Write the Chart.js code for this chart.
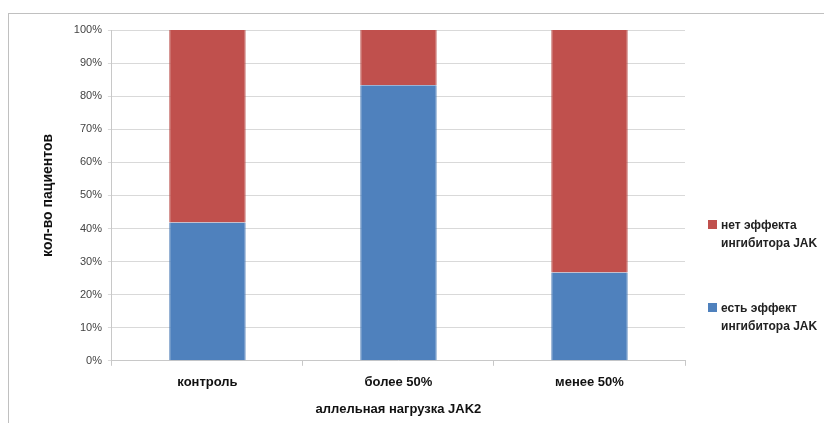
<!DOCTYPE html>
<html>
<head>
<meta charset="utf-8">
<script src="https://cdn.jsdelivr.net/npm/chart.js@4"></script>
<style>
  html, body { margin: 0; padding: 0; background: #fff; }
  #wrap { position: relative; width: 824px; height: 423px; overflow: hidden; }
  #frame { position: absolute; left: 8px; top: 13px; width: 830px; height: 430px;
           border-top: 1px solid #c0c0c0; border-left: 1px solid #c0c0c0; }
  #chart { position: absolute; left: 0; top: 0; }
  #legend { position: absolute; left: 708px; top: 216px; font: bold 12px "Liberation Sans", Arial, sans-serif; color: #222; }
  .item { position: relative; padding-left: 13px; line-height: 18px; margin-bottom: 47px; white-space: nowrap; }
  .box { position: absolute; left: 0; top: 4px; width: 9px; height: 9px; }
</style>
</head>
<body>
<div id="wrap">
  <div id="frame"></div>
  <canvas id="chart" width="824" height="423"></canvas>
  <div id="legend"></div>
</div>
<script>
const categories = ["контроль", "более 50%", "менее 50%"];
const withEffect = [41.8, 83.3, 26.7];
const noEffect = [58.2, 16.7, 73.3];
const seriesLabels = ["есть эффект ингибитора JAK", "нет эффекта ингибитора JAK"];
const yTicks = ["0%", "10%", "20%", "30%", "40%", "50%", "60%", "70%", "80%", "90%", "100%"];

const blue = "#4f81bd";
const red = "#c0504d";

const data = {
  labels: categories,
  datasets: [
    {
      label: seriesLabels[0],
      backgroundColor: blue,
      borderColor: "#4a7ab5",
      borderWidth: { left: 1, right: 1, top: 0, bottom: 0 },
      data: withEffect,
      barPercentage: 0.4,
      categoryPercentage: 1.0,
    },
    {
      label: seriesLabels[1],
      backgroundColor: red,
      borderColor: "#b84a47",
      borderWidth: { left: 1, right: 1, top: 0, bottom: 0 },
      data: noEffect,
      barPercentage: 0.4,
      categoryPercentage: 1.0,
    },
  ],
};

const font = { family: "'Liberation Sans', Arial, sans-serif" };

const config = {
  type: "bar",
  data: data,
  options: {
    responsive: false,
    animation: false,
    layout: { padding: { left: 40, right: 139, top: 30, bottom: 6 } },
    plugins: {
      legend: { display: false },
      tooltip: { enabled: false },
    },
    scales: {
      x: {
        stacked: true,
        grid: { display: true, drawOnChartArea: false, offset: true, tickLength: 5, color: "#c8c8c8" },
        border: { color: "#c8c8c8" },
        ticks: { color: "#111", font: { ...font, size: 13, weight: "bold" }, padding: 9 },
        title: {
          display: true,
          text: "аллельная нагрузка JAK2",
          color: "#111",
          font: { ...font, size: 13, weight: "bold" },
          padding: { top: 2, bottom: 0 },
        },
      },
      y: {
        stacked: true,
        min: 0,
        max: 100,
        grid: { color: "#d9d9d9", tickLength: 4, drawTicks: true },
        border: { color: "#c8c8c8" },
        ticks: {
          stepSize: 10,
          color: "#444",
          font: { ...font, size: 11 },
          padding: 6,
          callback: (v) => yTicks[Math.round(v / 10)],
        },
        title: {
          display: true,
          text: "кол-во пациентов",
          color: "#111",
          font: { ...font, size: 14, weight: "bold" },
          padding: { top: 0, bottom: 11 },
        },
      },
    },
  },
};

const myChart = new Chart(document.getElementById("chart"), config);

// legend, red on top like the original
const legend = document.getElementById("legend");
[1, 0].forEach((i) => {
  const ds = data.datasets[i];
  const words = ds.label.split(" ");
  const item = document.createElement("div");
  item.className = "item";
  item.innerHTML = '<span class="box" style="background:' + ds.backgroundColor + '"></span>' +
    words.slice(0, 2).join(" ") + "<br>" + words.slice(2).join(" ");
  legend.appendChild(item);
});
</script>
</body>
</html>
